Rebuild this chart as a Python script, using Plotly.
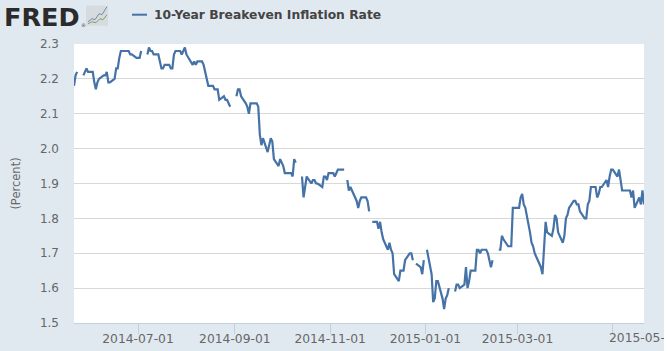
import pandas as pd
import plotly.graph_objects as go

series_name = "10-Year Breakeven Inflation Rate"
axis_title = "(Percent)"
first_day = "2014-05-21"
last_day = "2015-05-21"
tick_dates = ["2014-07-01", "2014-09-01", "2014-11-01", "2015-01-01", "2015-03-01", "2015-05-01"]
tick_labels = ["2014-07-01", "2014-09-01", "2014-11-01", "2015-01-01", "2015-03-01", ""]
last_tick_label = "2015-05-01"

# One row per business week; None marks a market holiday (the line breaks there)
rate_2014_q2 = [2.18, 2.21, 2.22,
    None, 2.21, 2.22, 2.23, 2.22,
    2.22, 2.19, 2.17, 2.19, 2.20,
    2.21, 2.21, 2.22, 2.19, 2.19,
    2.20, 2.23, 2.23, 2.26, 2.28,
    2.28, 2.28, 2.28, 2.27, 2.27]
rate_2014_q3 = [2.26, 2.26, 2.26, 2.28, None,
    2.27, 2.29, 2.28, 2.28, 2.27,
    2.27, 2.25, 2.23, 2.23, 2.24,
    2.24, 2.23, 2.23, 2.27, 2.28,
    2.28, 2.27, 2.28, 2.29, 2.27,
    2.25, 2.24, 2.25, 2.24, 2.25,
    2.25, 2.24, 2.22, 2.20, 2.18,
    2.18, 2.17, 2.17, 2.17, 2.14,
    2.15, 2.14, 2.14, 2.13, 2.12,
    None, 2.15, 2.17, 2.17, 2.15,
    2.13, 2.12, 2.10, 2.13, 2.13,
    2.13, 2.12, 2.04, 2.01, 2.03,
    1.99, 2.01, 2.03, 2.02, 1.97]
rate_2014_q4 = [1.95, 1.97, 1.96, 1.95, 1.93,
    1.93, 1.93, 1.92, 1.97, 1.96,
    None, 1.92, 1.86, 1.89, 1.92,
    1.90, 1.91, 1.91, 1.90, 1.90,
    1.89, 1.92, 1.92, 1.91, 1.93,
    1.93, 1.92, 1.93, 1.94, 1.94,
    1.94, None, 1.91, 1.88, 1.89,
    1.86, 1.85, 1.83, 1.85, 1.86,
    1.86, 1.85, 1.82, None, 1.79,
    1.79, 1.77, 1.79, 1.76, 1.74,
    1.71, 1.73, 1.71, 1.70, 1.64,
    1.62, 1.65, 1.65, 1.65, 1.68,
    1.70, 1.70, 1.68, None, 1.67]
rate_2015 = [1.66, 1.64, 1.68, None, 1.71,
    1.64, 1.56, 1.57, 1.62, 1.62,
    1.57, 1.54, 1.57, 1.58, 1.60,
    None, 1.59, 1.61, 1.61, 1.60,
    1.61, 1.66, 1.60, 1.62, 1.65,
    1.65, 1.71, 1.71, 1.70, 1.71,
    1.71, 1.70, 1.68, 1.66, 1.68,
    None, 1.71, 1.71, 1.75, 1.74,
    1.72, 1.72, 1.72, 1.83, 1.83,
    1.83, 1.86, 1.87, 1.84, 1.83,
    1.76, 1.73, 1.72, 1.70, 1.69,
    1.66, 1.64, 1.72, 1.79, 1.76,
    1.75, 1.77, 1.81, 1.80, 1.76,
    1.73, 1.75, 1.80, 1.81, 1.83,
    1.85, 1.85, 1.84, 1.84, 1.82,
    1.80, 1.80, 1.84, 1.85, 1.89,
    1.89, 1.86, 1.87, 1.89, 1.89,
    1.91, 1.89, 1.92, 1.94, 1.94,
    1.92, 1.94, 1.91, 1.88, 1.88,
    1.88, 1.88, 1.86, 1.88, 1.83,
    1.86, 1.84, 1.88, 1.84]

rates = rate_2014_q2 + rate_2014_q3 + rate_2014_q4 + rate_2015
dates = pd.bdate_range(first_day, last_day)
assert len(dates) == len(rates), (len(dates), len(rates))

W, H = 664, 351
L, R, T, B = 74, 644, 44.3, 323.3
BG = "#E1E9F0"
LINE = "#4572A7"
px = lambda v: (v - L) / (R - L)
py = lambda v: 1 - (v - T) / (B - T)

fig = go.Figure(go.Scatter(
    x=dates, y=rates, mode="lines", name=series_name,
    line=dict(color=LINE, width=2.2), connectgaps=False,
    hovertemplate="%{x|%Y-%m-%d}: %{y:.2f}<extra></extra>",
))

icon_blue = [(88, 22), (92, 19), (95, 20), (99, 14), (102, 15), (107, 7)]
icon_green = [(88, 24), (92, 22), (96, 23), (100, 19), (103, 20), (107, 15)]
def path(points):
    return "M " + " L ".join(f"{px(a):.5f},{py(b):.5f}" for a, b in points)

shapes = [
    dict(type="line", xref="paper", yref="paper", layer="above",
         x0=px(132), x1=px(147), y0=py(15), y1=py(15), line=dict(color=LINE, width=2)),
    dict(type="rect", xref="paper", yref="paper", layer="below",
         x0=px(86), x1=px(108), y0=py(26), y1=py(6), fillcolor="#D5DBDF", line=dict(width=0)),
    dict(type="path", xref="paper", yref="paper", path=path(icon_blue),
         line=dict(color="#6F8FA8", width=1)),
    dict(type="path", xref="paper", yref="paper", path=path(icon_green),
         line=dict(color="#86A05A", width=1)),
]

annotations = [
    dict(text="FRED", xref="paper", yref="paper", x=px(2), y=py(17), xanchor="left",
         yanchor="middle", showarrow=False, font=dict(family="DejaVu Sans", size=25.5, color="#2B2B2B", weight=700)),
    dict(text="®", xref="paper", yref="paper", x=px(79), y=py(25), xanchor="left",
         yanchor="middle", showarrow=False, font=dict(family="DejaVu Sans", size=5, color="#444444")),
    dict(text=series_name, xref="paper", yref="paper", x=px(152), y=py(15), xanchor="left",
         yanchor="middle", showarrow=False,
         font=dict(family="DejaVu Sans", size=12.3, color="#444444", weight=700)),
    dict(text=last_tick_label, xref="paper", yref="paper", x=px(607), y=py(338), xanchor="left",
         yanchor="middle", showarrow=False, font=dict(family="DejaVu Sans", size=12.3, color="#666666")),
]

fig.update_layout(
    width=W, height=H, autosize=False, showlegend=False,
    paper_bgcolor=BG, plot_bgcolor="#FFFFFF",
    margin=dict(l=L, r=W - R, t=T, b=H - B, pad=0),
    shapes=shapes, annotations=annotations,
    font=dict(family="DejaVu Sans", color="#666666"),
    hovermode="x",
)
fig.update_xaxes(
    automargin=False,
    range=[first_day, last_day], tickmode="array", tickvals=tick_dates, ticktext=tick_labels,
    showgrid=False, showline=True, linecolor="#C0D0E0", linewidth=1,
    ticks="outside", ticklen=10, tickcolor="#C0D0E0", tickwidth=1,
    tickfont=dict(size=12.3, color="#666666"), zeroline=False, ticklabelstandoff=-6,
)
fig.update_yaxes(
    automargin=False,
    range=[1.5, 2.3], dtick=0.1, tickformat=".1f",
    showgrid=True, gridcolor="#D8D8D8", gridwidth=1, zeroline=False, showline=False,
    ticks="", tickfont=dict(size=12, color="#666666"), ticklabelstandoff=14,
    title=dict(text=axis_title, font=dict(size=11.5, color="#666666"), standoff=16),
)
fig.write_html("out.html", config=dict(displayModeBar=False),
               post_script="document.body.style.margin='0';document.documentElement.style.overflow='hidden';")
